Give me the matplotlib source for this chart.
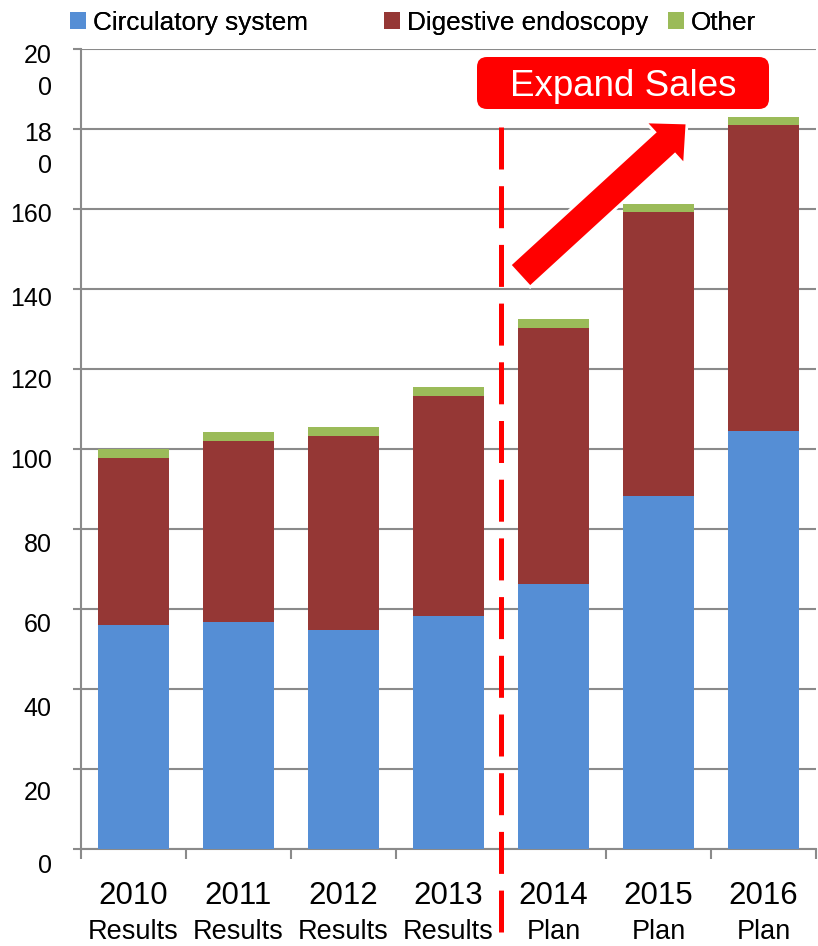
import numpy as np
import matplotlib
matplotlib.use('Agg')
import matplotlib.pyplot as plt
from matplotlib.patches import Patch, FancyBboxPatch, FancyArrow
from matplotlib.transforms import ScaledTranslation, blended_transform_factory

plt.rcParams['font.family'] = ['Liberation Sans', 'DejaVu Sans']

# Sales by segment (stacked)
years = ['2010', '2011', '2012', '2013', '2014', '2015', '2016']
phase = ['Results', 'Results', 'Results', 'Results', 'Plan', 'Plan', 'Plan']
circulatory = [56.0, 56.7, 54.8, 58.3, 66.3, 88.3, 104.6]
digestive = [41.8, 45.3, 48.5, 55.0, 64.0, 71.0, 76.5]
other = [2.2, 2.2, 2.2, 2.2, 2.1, 2.0, 2.0]
series_names = ['Circulatory system', 'Digestive endoscopy', 'Other']
y_ticks = [0, 20, 40, 60, 80, 100, 120, 140, 160, 180, 200]
y_ticklabels = ['0', '20', '40', '60', '80', '100', '120', '140', '160', '18\n0', '20\n0']

colors = ['#558ED5', '#953735', '#9BBB59']
grid_color = '#8A8A8A'

fig = plt.figure(figsize=(8.18, 9.46), dpi=100)
ax = fig.add_axes([81 / 818, 97 / 946, 735 / 818, 800 / 946])

x = np.arange(len(years))
bottom = np.zeros(len(years))
for vals, color in zip([circulatory, digestive, other], colors):
    ax.bar(x, vals, width=0.667, bottom=bottom, color=color, zorder=3)
    bottom += np.array(vals)

ax.set_xlim(-0.5, len(years) - 0.5)
ax.set_ylim(0, 200)

# gridlines and axes styling
ax.set_yticks(y_ticks)
ax.set_yticklabels(y_ticklabels, fontsize=18)
ax.yaxis.grid(True, color=grid_color, linewidth=1.5, zorder=0)
ax.set_axisbelow(True)
for side in ['top', 'right']:
    ax.spines[side].set_visible(False)
for side in ['left', 'bottom']:
    ax.spines[side].set_color(grid_color)
    ax.spines[side].set_linewidth(1.5)
ax.tick_params(axis='y', length=6, width=1.5, color=grid_color, pad=15)

# labels sit a little under their gridlines (pixels, bottom to top);
# the wrapped ones hang from the line
label_drop = [14, 21, 18, 14, 13, 10, 9, 7, 4, -7, -5]
for lab, drop in zip(ax.get_yticklabels(), label_drop):
    if '\n' in lab.get_text():
        lab.set_va('top')
        lab.set_linespacing(1.4)
    lab.set_transform(lab.get_transform() + ScaledTranslation(0, -drop / 100, fig.dpi_scale_trans))

# year labels in the middle, tick marks between categories
ax.set_xticks(x)
ax.set_xticklabels(years, fontsize=22.5)
ax.tick_params(axis='x', which='major', length=0, pad=23)
ax.set_xticks(np.arange(-0.5, len(years)), minor=True)
ax.tick_params(axis='x', which='minor', length=7, width=1.5, color=grid_color)

trans = blended_transform_factory(ax.transData, ax.transAxes)
for xi, p in zip(x, phase):
    ax.text(xi, -0.1125, p, transform=trans, ha='center', va='baseline', fontsize=19.5)

# divider between results and plan
ax.plot([3.5, 3.5], [180.5, -20.8], color='red', linewidth=3.6, dashes=(8.4, 3.34),
        clip_on=False, zorder=5)

# "Expand Sales" banner and arrow
box = FancyBboxPatch((4.77, 8.37), 2.92, 0.52, boxstyle='round,pad=0,rounding_size=0.1',
                     transform=fig.dpi_scale_trans, facecolor='red', edgecolor='none', zorder=6)
fig.patches.append(box)
fig.text(6.23, 8.60, 'Expand Sales', transform=fig.dpi_scale_trans, color='white',
         fontsize=26.5, ha='center', va='center', zorder=7)

arrow = FancyArrow(5.20, 6.70, 1.67, 1.53, width=0.30, head_width=0.58, head_length=0.30,
                   length_includes_head=True, transform=fig.dpi_scale_trans,
                   facecolor='red', edgecolor='white', linewidth=2, zorder=6)
fig.patches.append(arrow)

# legend entries at their own positions across the top
legend_x = [70, 384, 668]
for name, color, lx in zip(series_names, colors, legend_x):
    leg = fig.legend([Patch(facecolor=color)], [name], loc='center left',
                     bbox_to_anchor=(lx / 818, 1 - 23 / 946), frameon=False, fontsize=18.8,
                     handlelength=0.62, handleheight=0.62, handletextpad=0.25,
                     borderpad=0, borderaxespad=0)
    fig.add_artist(leg)

fig.savefig('out.png', dpi=100)
